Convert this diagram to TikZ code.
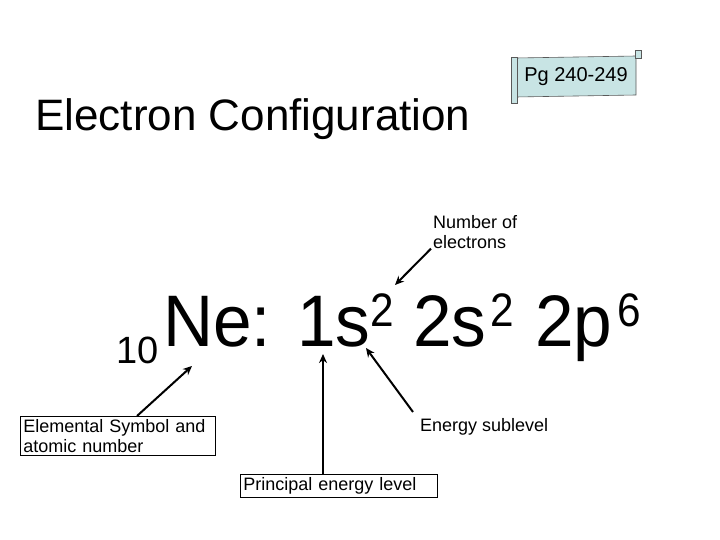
\documentclass[tikz,border=0pt]{standalone}
\usepackage{fontspec}
\setmainfont{Liberation Sans}
\usetikzlibrary{arrows.meta}
\begin{document}
\begin{tikzpicture}[x=1pt,y=-1pt,
  lbl/.style={font=\fontsize{18}{20}\selectfont, inner sep=2pt, align=left},
  box/.style={lbl, draw, line width=0.8pt, anchor=north west, inner sep=3pt},
  big/.style={font=\fontsize{73}{75}\selectfont, anchor=base west, inner sep=0pt, xscale=0.95},
  sup/.style={font=\fontsize{47}{49}\selectfont, anchor=base west, inner sep=0pt, xscale=0.9},
  arr/.style={line width=2pt, -{Stealth[length=9pt,width=8pt]}}]
\useasboundingbox (0,0) rectangle (720,540);
\node[font=\fontsize{44}{46}\selectfont, anchor=base west, inner sep=0pt] (title) at (35,131) {Electron Configuration};
% scroll
\path[fill={rgb,255:red,200;green,228;blue,228}, draw=gray!70!black, line width=0.6pt]
  (516,58) -- (636,56) -- (636,95) -- (516,97) -- cycle;
\draw[gray!70!black, line width=0.6pt, fill={rgb,255:red,200;green,228;blue,228}] (511,57) rectangle (517,103);
\draw[gray!70!black, line width=0.6pt, fill={rgb,255:red,200;green,228;blue,228}] (635,50) rectangle (641,58);
\node[font=\fontsize{20}{22}\selectfont] (pg) at (576,77) {Pg 240-249};
% formula
\node[font=\fontsize{38}{40}\selectfont, anchor=base west, inner sep=0pt] (z) at (116,363) {10};
\node[big] (ne) at (163,346) {Ne:};
\node[big] (s1) at (297,346) {1s};
\node[sup] (e1) at (370,326) {2};
\node[big] (s2) at (413,346) {2s};
\node[sup] (e2) at (490,326) {2};
\node[big] (p2) at (535,346) {2p};
\node[sup] (e3) at (617,326) {6};
% labels
\node[lbl, anchor=north west, inner sep=0pt] (num) at (433,215) {Number of\\electrons};
\node[box, text width=189pt] (elem) at (20,416) {Elemental Symbol and atomic number};
\node[box, text width=191pt] (prin) at (240,474) {Principal energy level};
\node[lbl, anchor=west] (sub) at (418,427) {Energy sublevel};
\coordinate (a1) at (192,366);
\coordinate (a2) at (323,354);
\coordinate (a3) at (366,348);
\coordinate (a4) at (395,285);
\draw[arr] (elem.north west) ++(117,0) -- (a1);
\draw[arr] (prin.north west) ++(83,0) -- (a2);
\draw[arr] (sub.west) ++(-5,-15) -- (a3);
\draw[arr] (num.south west) ++(-2,0) -- (a4);
\end{tikzpicture}
\end{document}
